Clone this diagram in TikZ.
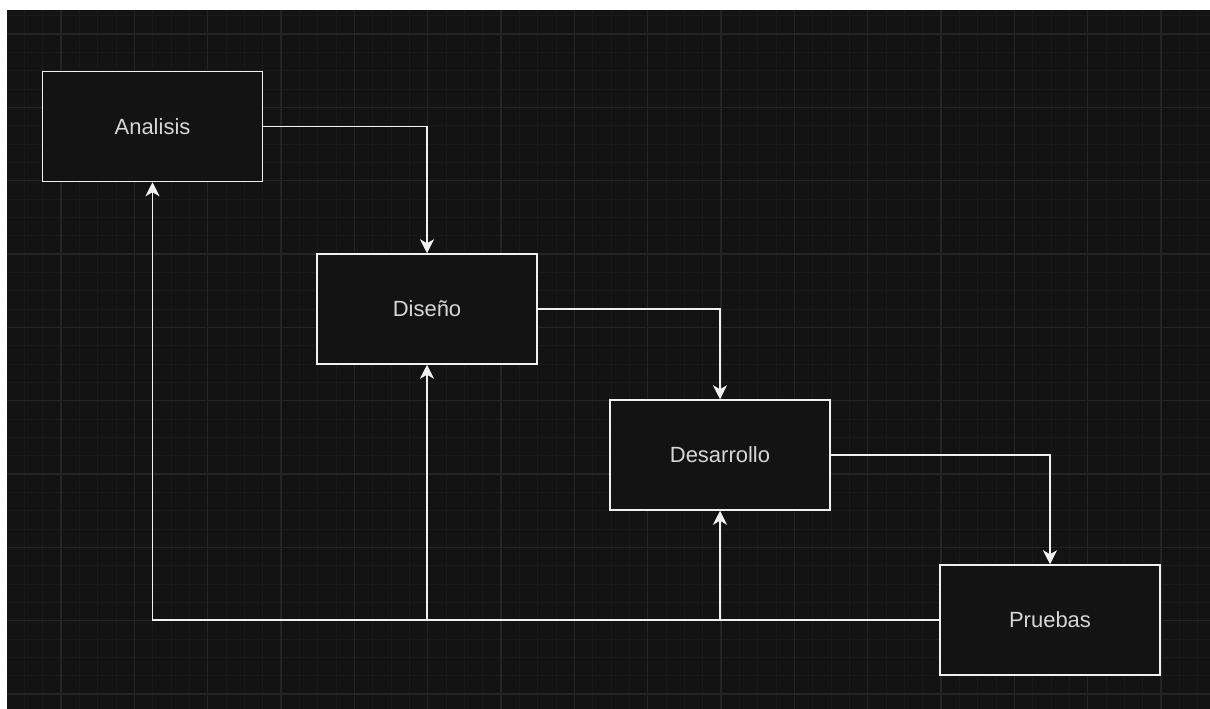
\documentclass[tikz,border=0pt]{standalone}
\usepackage{fontspec}
\setmainfont{Liberation Sans}
\usetikzlibrary{arrows.meta}
\definecolor{canvas}{HTML}{131313}
\definecolor{gridminor}{HTML}{1A1A1A}
\definecolor{gridmajor}{HTML}{242424}
\definecolor{stroke}{HTML}{F0F0F0}
\definecolor{label}{HTML}{D6D6D6}
\begin{document}
\begin{tikzpicture}[x=1pt,y=-1pt,
  box/.style={draw=stroke, fill=canvas, line width=1.5pt,
    minimum width=220pt, minimum height=110pt, inner sep=0pt,
    font=\fontsize{22}{26}\selectfont, text=label},
  flow/.style={draw=stroke, line width=1.5pt,
    -{Stealth[length=14pt,width=14pt,inset=4pt]}},
  minorline/.style={draw=gridminor, line width=1pt},
  majorline/.style={draw=gridmajor, line width=1.5pt}]
\useasboundingbox (0,0) rectangle (1210,709);
% page and canvas
\fill[white] (0,0) rectangle (1210,709);
\fill[canvas] (7,10) rectangle (1210,709);
% background grid
\begin{scope}
  \clip (7,10) rectangle (1210,709);
  \foreach \i in {0,...,65} \draw[minorline] ({6+\i*18.3333},10) -- ++(0,699);
  \foreach \j in {0,...,37} \draw[minorline] (7,{15.667+\j*18.3333}) -- ++(1203,0);
  \foreach \i in {0,...,15} \draw[majorline] ({61+\i*73.3333},10) -- ++(0,699);
  \foreach \j in {0,...,9} \draw[majorline] (7,{34+\j*73.3333}) -- ++(1203,0);
\end{scope}
% stages
\node[box] (ana) at (152.5,126.5) {Analisis};
\node[box] (dis) at (427,309) {Diseño};
\node[box] (des) at (720,455) {Desarrollo};
\node[box] (pru) at (1050,620) {Pruebas};
% forward flow
\draw[flow] (ana.east) -| (dis.north);
\draw[flow] (dis.east) -| (des.north);
\draw[flow] (des.east) -| (pru.north);
% feedback line from testing
\draw[flow] (pru.west) -| (ana.south);
\coordinate (jd) at (dis.south |- pru.west);
\coordinate (jr) at (des.south |- pru.west);
\draw[flow] (jd) -- (dis.south);
\draw[flow] (jr) -- (des.south);
\end{tikzpicture}
\end{document}
